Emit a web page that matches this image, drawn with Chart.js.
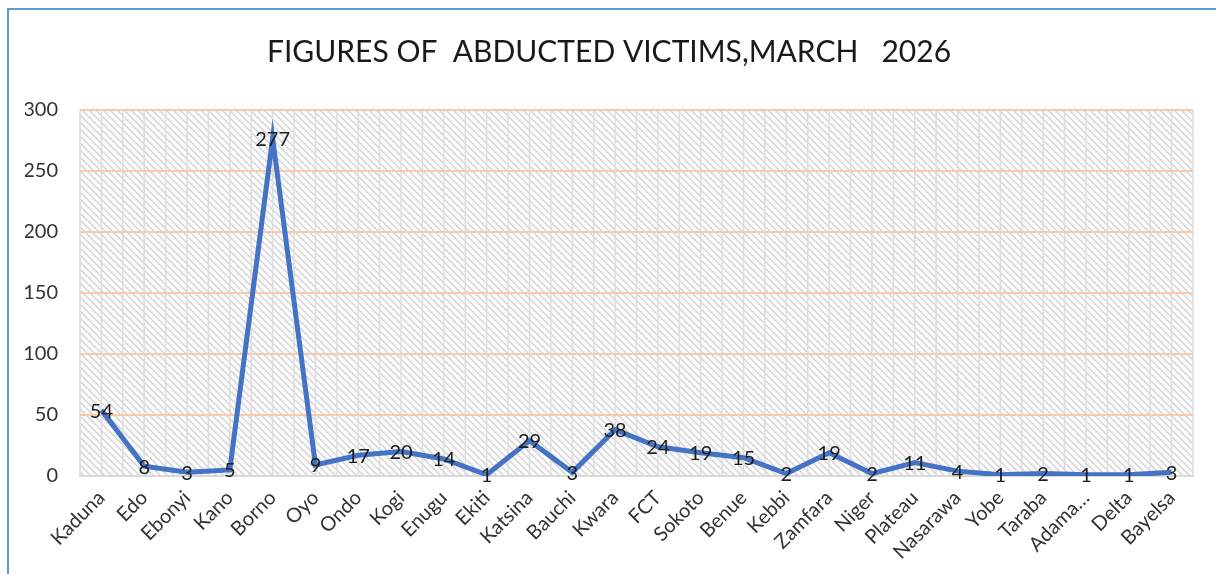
<!DOCTYPE html>
<html>
<head>
<meta charset="utf-8">
<title>Figures of abducted victims</title>
<script src="https://cdn.jsdelivr.net/npm/chart.js@4.4.1/dist/chart.umd.min.js"></script>
<style>
    body { margin: 0; background: #fff; overflow: hidden; }
    .wrap { position: relative; width: 1216px; height: 574px; overflow: hidden; }
    .frame { position: absolute; left: 7px; top: 8px; width: 1400px; height: 800px; border: 2px solid #5B9BD5; box-sizing: border-box; }
    canvas { position: absolute; left: 0; top: 0; }
</style>
</head>
<body>
<div class="wrap">
    <div class="frame"></div>
    <canvas id="abductionChart" width="1216" height="574"></canvas>
</div>
<script>
const states = ['Kaduna', 'Edo', 'Ebonyi', 'Kano', 'Borno', 'Oyo', 'Ondo', 'Kogi', 'Enugu', 'Ekiti',
    'Katsina', 'Bauchi', 'Kwara', 'FCT', 'Sokoto', 'Benue', 'Kebbi', 'Zamfara', 'Niger', 'Plateau',
    'Nasarawa', 'Yobe', 'Taraba', 'Adama…', 'Delta', 'Bayelsa'];
const victims = [54, 8, 3, 5, 277, 9, 17, 20, 14, 1, 29, 3, 38, 24, 19, 15, 2, 19, 2, 11, 4, 1, 2, 1, 1, 3];
const yTicks = [0, 50, 100, 150, 200, 250, 300];

// hatch pattern for the plot area
function makeHatch() {
    const n = 7;
    const c = document.createElement('canvas');
    c.width = n;
    c.height = n;
    const g = c.getContext('2d');
    g.fillStyle = '#fbfbfb';
    g.fillRect(0, 0, n, n);
    g.strokeStyle = '#d2d2d2';
    g.lineWidth = 1.3;
    g.beginPath();
    g.moveTo(-1, -1); g.lineTo(n + 1, n + 1);
    g.moveTo(-1, n - 1); g.lineTo(1, n + 1);
    g.moveTo(n - 1, -1); g.lineTo(n + 1, 1);
    g.stroke();
    return g.createPattern(c, 'repeat');
}

const plotBackground = {
    id: 'plotBackground',
    beforeDraw(chart) {
        const area = chart.chartArea;
        const x = chart.scales.x;
        const c = chart.ctx;
        c.save();
        c.fillStyle = makeHatch();
        c.fillRect(area.left, area.top, area.right - area.left, area.bottom - area.top);
        const half = (x.getPixelForValue(1) - x.getPixelForValue(0)) / 2;
        c.strokeStyle = '#dedede';
        c.lineWidth = 1.5;
        c.beginPath();
        for (let i = 0; i < states.length; i++) {
            const px = x.getPixelForValue(i);
            c.moveTo(px - half, area.top); c.lineTo(px - half, area.bottom);
            c.moveTo(px, area.top); c.lineTo(px, area.bottom);
        }
        const last = x.getPixelForValue(states.length - 1) + half;
        c.moveTo(last, area.top); c.lineTo(last, area.bottom);
        c.stroke();
        c.restore();
    }
};

// value labels sit centred on each point
const pointLabels = {
    id: 'pointLabels',
    afterDatasetsDraw(chart) {
        const c = chart.ctx;
        const meta = chart.getDatasetMeta(0);
        c.save();
        c.font = '20px Lato';
        c.fillStyle = '#1e1e1e';
        c.textAlign = 'center';
        c.textBaseline = 'middle';
        meta.data.forEach(function (pt, i) {
            c.fillText(String(victims[i]), pt.x, pt.y + 1);
        });
        c.restore();
    }
};

const ctx = document.getElementById('abductionChart').getContext('2d');
new Chart(ctx, {
    type: 'line',
    data: {
        labels: states,
        datasets: [{
            label: 'Abducted victims',
            data: victims,
            borderColor: '#4472C4',
            borderWidth: 5,
            pointRadius: 0,
            tension: 0,
            fill: false
        }]
    },
    options: {
        responsive: false,
        animation: false,
        layout: { padding: { left: 25, right: 23, top: 0, bottom: 0 } },
        plugins: {
            legend: { display: false },
            tooltip: { enabled: false },
            title: {
                display: true,
                text: 'FIGURES OF  ABDUCTED VICTIMS,MARCH   2026',
                color: '#1a1a1a',
                font: { family: 'Lato', size: 30, weight: 'normal' },
                padding: { top: 34, bottom: 40 }
            }
        },
        scales: {
            x: {
                offset: true,
                grid: { display: false, drawTicks: false },
                border: { color: '#d9d9d9', width: 2 },
                ticks: {
                    color: '#333333',
                    font: { family: 'Lato', size: 20 },
                    minRotation: 45,
                    maxRotation: 45,
                    padding: 10,
                    autoSkip: false
                },
                afterFit(scale) { scale.height = 98; }
            },
            y: {
                min: 0,
                max: 300,
                afterBuildTicks(scale) { scale.ticks = yTicks.map(v => ({ value: v })); },
                grid: { color: '#f8cbad', lineWidth: 2, drawTicks: false },
                border: { display: false },
                ticks: {
                    color: '#333333',
                    font: { family: 'Lato', size: 20 },
                    padding: 22
                },
                afterFit(scale) { scale.width = 55; }
            }
        }
    },
    plugins: [plotBackground, pointLabels]
});
</script>
</body>
</html>
